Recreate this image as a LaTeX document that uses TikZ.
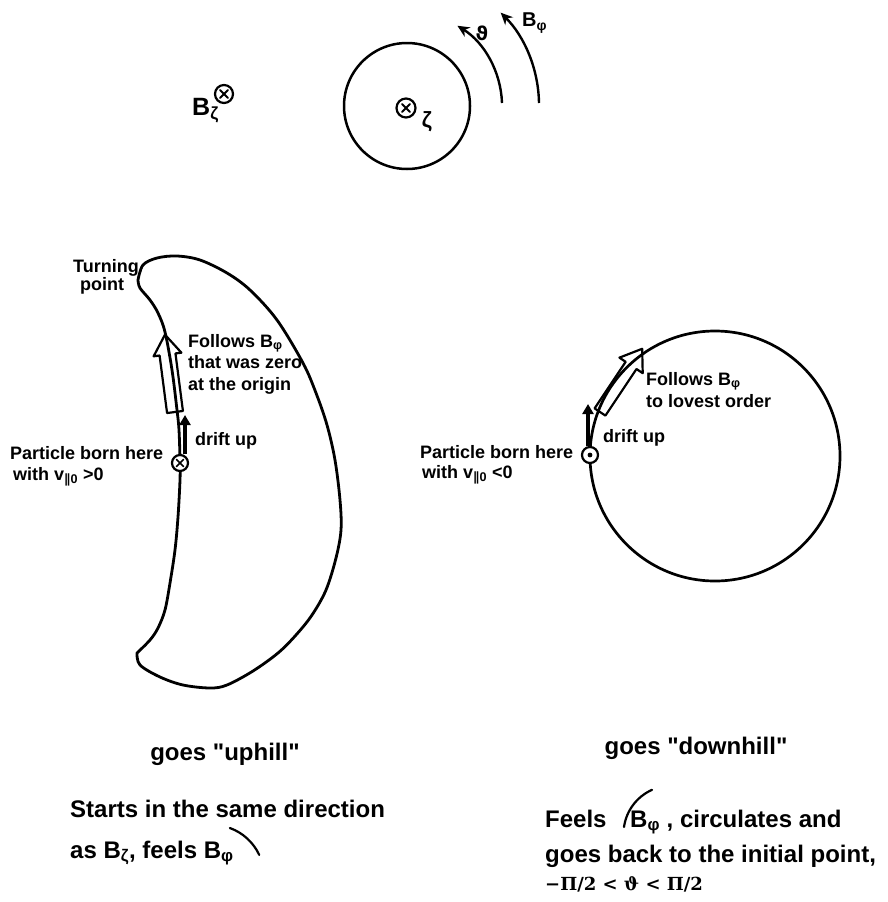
\documentclass[tikz,border=0pt]{standalone}
\usepackage{fontspec}
\setmainfont{Liberation Sans}
\newfontfamily\lsans{Liberation Sans}
\newfontfamily\dejavu{DejaVu Sans}
\newfontfamily\dvserif{DejaVu Serif}
\usetikzlibrary{arrows.meta}
\tikzset{
  curve/.style={line width=2.8pt, line join=round, line cap=round},
  ring/.style={circle, draw, line width=2.5pt, inner sep=0pt},
  lbl/.style={font=\bfseries\fontsize{18}{20}\selectfont, inner sep=0pt, anchor=base west},
  capt/.style={font=\lsans\bfseries\fontsize{24}{26}\selectfont, inner sep=0pt, anchor=base west},
  toplbl/.style={font=\bfseries\fontsize{25}{27}\selectfont, inner sep=0pt, anchor=base west},
  hollow/.style={draw, line width=2.2pt, line join=round},
  drift/.style={line width=3.2pt, -{Triangle[length=10pt,width=11pt]}},
  field/.style={line width=2.4pt, -{Stealth[length=12pt,width=11pt]}},
  partic/.style={circle, draw, line width=2.2pt, minimum size=16pt, inner sep=0pt, fill=white},
  small/.style={line width=2pt, line cap=round},
}
\begin{document}
\begin{tikzpicture}[x=1pt,y=-1pt]
\useasboundingbox[fill=white] (0,0) rectangle (887,902);

% ---------- top sketch ----------
\node[ring, minimum size=126pt] (torus) at (407,106) {};
\node[partic, minimum size=19pt, line width=2.2pt] (ctr) at (406,108) {};
\draw[small] ([shift={(-4,-4)}]ctr.center) -- ([shift={(4,4)}]ctr.center);
\draw[small] ([shift={(-4,4)}]ctr.center) -- ([shift={(4,-4)}]ctr.center);
\node[font=\bfseries\fontsize{22}{24}\selectfont, inner sep=0pt] (zeta) at (427,122) {ζ};

\node[toplbl] (bz) at (192,115) {B\textsubscript{ζ}};
\node[partic, minimum size=18pt, line width=2.2pt] (bzx) at (224,94) {};
\draw[small] ([shift={(-4,-4)}]bzx.center) -- ([shift={(4,4)}]bzx.center);
\draw[small] ([shift={(-4,4)}]bzx.center) -- ([shift={(4,-4)}]bzx.center);

\draw[field] (502,103) arc[start angle=-2, end angle=-58, radius=95];
\draw[field] (539,103) arc[start angle=-1, end angle=-45, radius=131];
\node[font=\dejavu\bfseries\fontsize{19}{21}\selectfont, inner sep=0pt] (theta) at (482,33) {ϑ};
\node[font=\bfseries\fontsize{20}{22}\selectfont, inner sep=0pt, anchor=base west] (bphitop) at (522,27) {B\textsubscript{φ}};

% ---------- left: crescent orbit ----------
\draw[curve] plot[smooth, tension=0.55] coordinates {
  (138,280) (143,265) (157,258) (177,256) (200,260) (227,273) (250,290)
  (277,320) (303,363) (316,393) (327,425) (335,460) (340,500) (341,530)
  (336,558) (326,590) (312,615) (296,635) (278,653) (253,671) (227,685)
  (210,688) (183,685) (160,677) (140,665) (137,653)}
  -- plot[smooth, tension=0.55] coordinates {
  (137,653) (150,640) (158,628) (165,610) (170,583) (175,550) (178,517)
  (180,480) (180,460) (179,430) (177,410) (172,370) (165,332) (158,313)
  (150,300) (140,288) (138,280)} -- cycle;

% hollow arrow (follows B_phi)
\begin{scope}[shift={(175,412)}, rotate=97.4]
  \draw[hollow] (0,-8) -- (58,-8) -- (58,-14) -- (78,0) -- (58,14) -- (58,8) -- (0,8) -- cycle;
\end{scope}

% particle (x)
\node[partic] (p1) at (180,463) {};
\draw[small, line width=1.7pt] ([shift={(-3.5,-3.5)}]p1.center) -- ([shift={(3.5,3.5)}]p1.center);
\draw[small, line width=1.7pt] ([shift={(-3.5,3.5)}]p1.center) -- ([shift={(3.5,-3.5)}]p1.center);
\coordinate (d1tip) at (185,415);
\draw[drift] ([xshift=5pt]p1.north) -- (d1tip);

\node[lbl] (turn1) at (73,272) {Turning};
\node[lbl] (turn2) at (80,290) {point};
\node[lbl] (fol1) at (188,347) {Follows B\textsubscript{φ}};
\node[lbl] (fol2) at (188,368) {that was zero};
\node[lbl] (fol3) at (188,390) {at the origin};
\node[lbl] (dr1) at (195,445) {drift up};
\node[lbl] (pb1) at (10,459) {Particle born here};
\node[lbl] (pw1) at (13,480) {with v\textsubscript{{\dejavu ∥}0} >0};

% ---------- right: circular orbit ----------
\node[ring, line width=2.7pt, minimum size=250pt] (orbit) at (715,456) {};
\begin{scope}[shift={(600,412)}, rotate=56.3]
  \draw[hollow] (0,-6.5) -- (56,-6.5) -- (56,-14) -- (76,0) -- (56,14) -- (56,6.5) -- (0,6.5) -- cycle;
\end{scope}
\node[partic] (p2) at (590,455) {};
\fill (p2.center) circle[radius=2.4];
\coordinate (d2tip) at (588,404);
\draw[drift] ([xshift=-2pt]p2.north) -- (d2tip);

\node[lbl] (fol4) at (646,385) {Follows B\textsubscript{φ}};
\node[lbl] (fol5) at (646,407) {to lovest order};
\node[lbl] (dr2) at (603,442) {drift up};
\node[lbl] (pb2) at (420,458) {Particle born here};
\node[lbl] (pw2) at (422,478) {with v\textsubscript{{\dejavu ∥}0} <0};

% ---------- captions ----------
\node[capt, anchor=base] (up) at (225,760) {goes "uphill"};
\node[capt] (st1) at (70,817) {Starts in the same direction};
\node[capt] (st2) at (70,858) {as B\textsubscript{ζ}, feels B\textsubscript{φ}};
\draw[small, line width=2.2pt] ([shift={(-4,-30)}]st2.base east) arc[start angle=-70, end angle=-25, radius=52];

\node[capt, anchor=base] (down) at (696,754) {goes "downhill"};
\node[capt] (fe1) at (545,827) {Feels};
\draw[small, line width=2.2pt] (624,827) arc[start angle=-172, end angle=-114, radius=48];
\node[capt] (fe2) at (630,827) {B\textsubscript{φ} , circulates and};
\node[capt] (fe3) at (545,862) {goes back to the initial point,};
\node[font=\dvserif\bfseries\fontsize{18}{20}\selectfont, inner sep=0pt, anchor=base west] (rng) at (545,890) {−Π/2 < ϑ < Π/2};
\end{tikzpicture}
\end{document}
